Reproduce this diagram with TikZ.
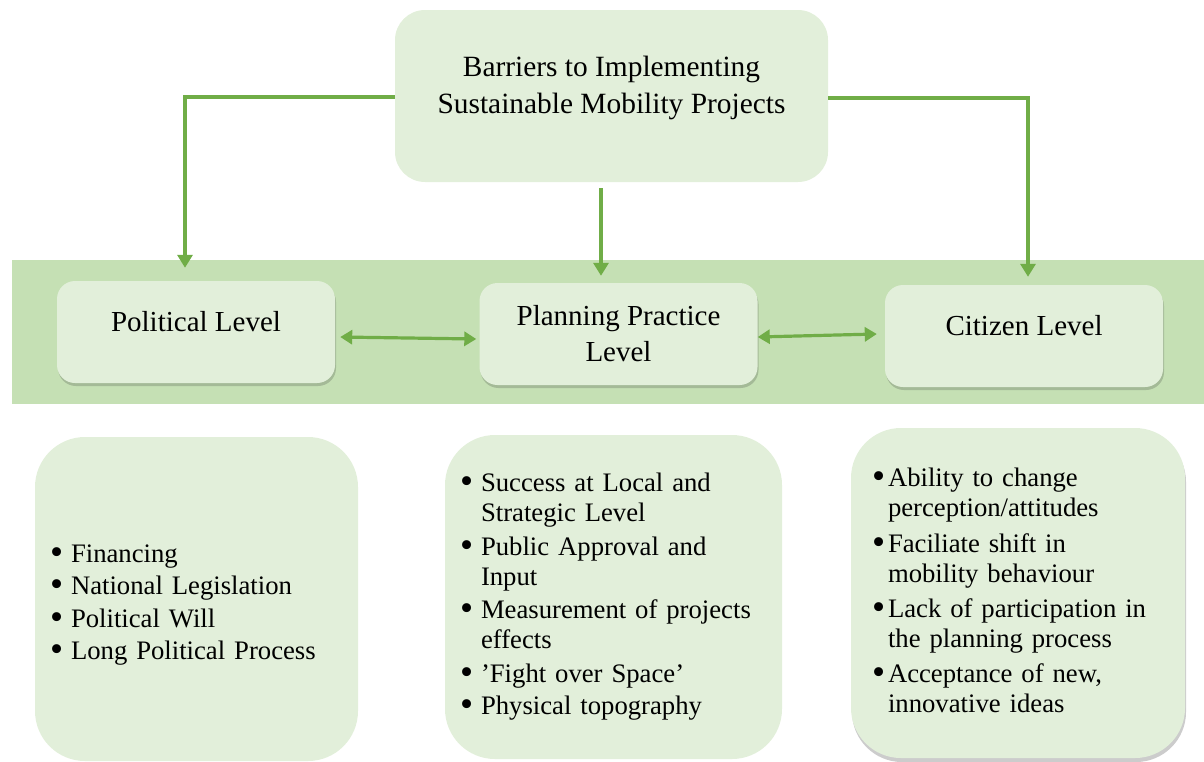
\documentclass[tikz,border=0pt]{standalone}
\usepackage{fontspec}
\setmainfont{Liberation Serif}
\usetikzlibrary{arrows.meta,shadows}

\definecolor{boxgreen}{HTML}{E2EFDA}
\definecolor{bandgreen}{HTML}{C5E0B4}
\definecolor{arrowgreen}{HTML}{70AD47}

% bullet in its own column, a little larger than the text one
\newcommand{\dotmark}[1][21pt]{\makebox[#1][l]{\smash{\raisebox{-2.2pt}{\scalebox{1.4}{\textbullet}}}}}

\begin{document}
\begin{tikzpicture}
          [x=1pt, y=-1pt,
          topbox/.style={rounded corners=30pt, fill=boxgreen, minimum width=433pt, minimum height=172pt,
              align=center, font=\fontsize{29.4}{37}\selectfont},
          level/.style={rounded corners=18pt, fill=boxgreen, minimum width=278pt, minimum height=102pt,
              align=center, font=\fontsize{29}{36}\selectfont,
              drop shadow={shadow xshift=1pt, shadow yshift=-3pt, opacity=0.22, fill=black!80}},
          listbox/.style={rounded corners=50pt, fill=boxgreen, minimum height=324pt, align=left,
              font=\fontsize{26.7}{30}\selectfont},
          line/.style={draw=arrowgreen, line width=3.2pt, -{Triangle[length=13pt,width=15pt]}},
          twoway/.style={line, {Triangle[length=12pt,width=14pt]}-{Triangle[length=12pt,width=14pt]}}]

          \useasboundingbox (0,0) rectangle (1204,761);

          % band behind the three levels
          \fill[bandgreen] (12,260) rectangle (1204,404);

          \node [topbox, text depth=23pt] (barriers) at (611.5,96)
              {Barriers to Implementing\\Sustainable Mobility Projects};

          \node [level, text depth=22pt] (political) at (196,332) {Political Level};
          \node [level] (planning) at (618.5,334) {Planning Practice\\Level};
          \node [level, text depth=22pt] (citizen) at (1024,336) {Citizen Level};

          \node [listbox, text width=293pt, inner xsep=15pt, text height=82pt] (polissues) at (196.5,599)
              {\begin{tabular}{@{}l@{}l@{}}
                  \dotmark & Financing\\[2.5pt]
                  \dotmark & National Legislation\\[2.5pt]
                  \dotmark & Political Will\\[2.5pt]
                  \dotmark & Long Political Process
              \end{tabular}};
          \node [listbox, text width=307pt, inner xsep=15pt] (planissues) at (613.5,597)
              {\begin{tabular}{@{}l@{}l@{}}
                  \dotmark & Success at Local and\\
                           & Strategic Level\\[4pt]
                  \dotmark & Public Approval and\\
                           & Input\\[3pt]
                  \dotmark & Measurement of projects\\
                           & effects\\[4pt]
                  \dotmark & 'Fight over Space'\\[2pt]
                  \dotmark & Physical topography
              \end{tabular}};
          \node [listbox, minimum height=330pt, text width=292pt, inner xsep=21pt,
              drop shadow={shadow xshift=1pt, shadow yshift=-4pt, opacity=0.25, fill=black!80}] (citissues) at (1018,593)
              {\begin{tabular}{@{}l@{}l@{}}
                  \dotmark[16pt] & Ability to change\\
                                 & perception/attitudes\\[6pt]
                  \dotmark[16pt] & Faciliate shift in\\
                                 & mobility behaviour\\[5pt]
                  \dotmark[16pt] & Lack of participation in\\
                                 & the planning process\\[5pt]
                  \dotmark[16pt] & Acceptance of new,\\
                                 & innovative ideas
              \end{tabular}};

          % from the main barrier down to each level
          \draw [line] ([yshift=-1pt]barriers.west) -| ([xshift=-11pt,yshift=13pt]political.north);
          \draw [line, shorten <=6pt, shorten >=7pt] ([xshift=-10.5pt]barriers.south)
              -- ([xshift=-10.5pt]barriers.south |- planning.north);
          \draw [line] ([yshift=-2pt]barriers.east) -| ([xshift=4pt,yshift=8pt]citizen.north);

          % links between the levels
          \draw [twoway] ([xshift=5pt,yshift=-5pt]political.east) -- ([xshift=-3pt,yshift=-5pt]planning.west);
          \draw [twoway] ([yshift=-3pt]planning.east) -- ([xshift=-8pt,yshift=2pt]citizen.west);
\end{tikzpicture}
\end{document}
